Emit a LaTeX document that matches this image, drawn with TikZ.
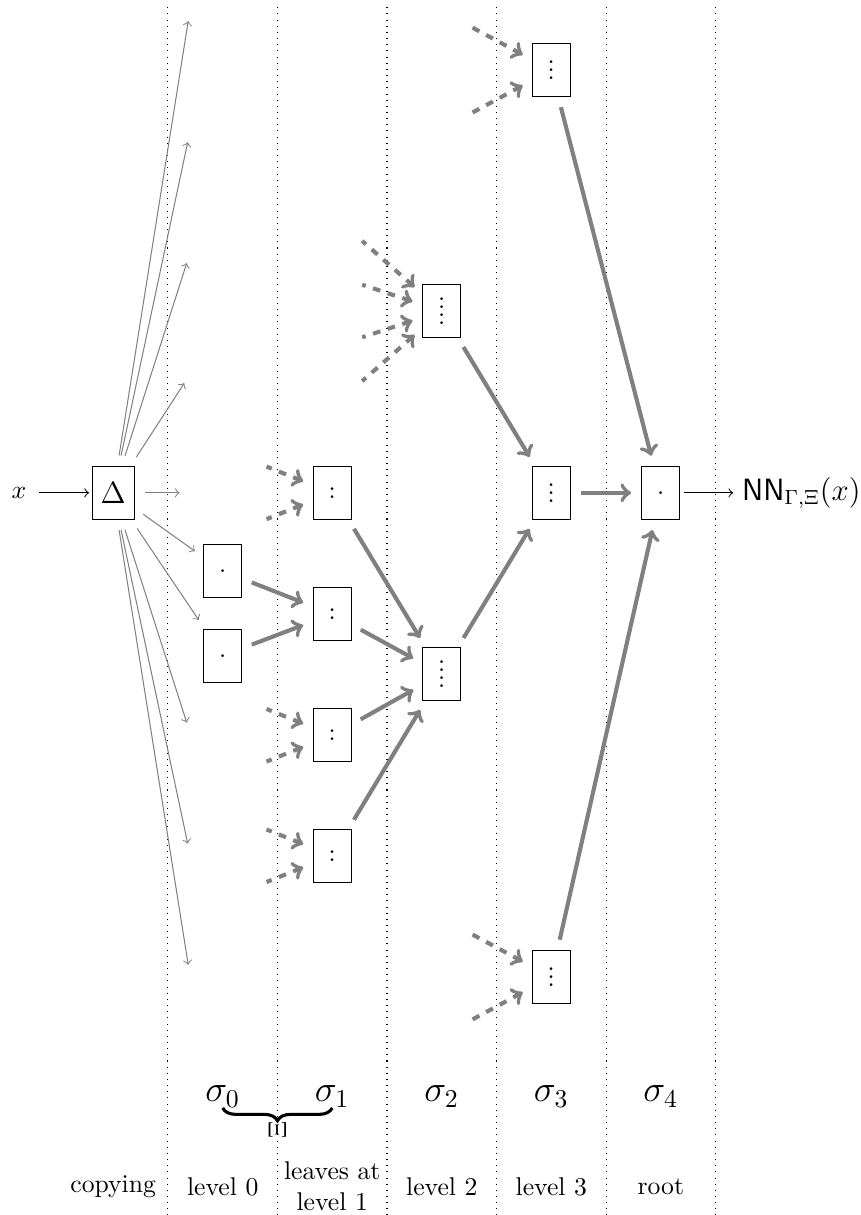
\documentclass[tikz,border=0pt]{standalone}
\usepackage{amsmath}
\usepackage{amssymb}
\usepackage{xcolor}
\usepackage{tikz}
\usetikzlibrary{decorations.pathreplacing}

\newcommand{\onedot}{\vbox{\hbox{.}}}
\newcommand{\twodots}{\vbox{\baselineskip=3.1pt\lineskiplimit=0pt\hbox{.}\hbox{.}}}
\newcommand{\threedots}{\vbox{\baselineskip=3.1pt\lineskiplimit=0pt\hbox{.}\hbox{.}\hbox{.}}}
\newcommand{\fourdots}{\vbox{\baselineskip=3.1pt\lineskiplimit=0pt\hbox{.}\hbox{.}\hbox{.}\hbox{.}}}

\begin{document}
\begin{tikzpicture}[box/.style={draw,minimum width=0.52cm,minimum height=0.73cm},
		copy/.style={->,gray,shorten >=4pt,shorten <=4pt},
		feed/.style={->,gray,ultra thick,shorten >=4pt,shorten <=4pt},
		leaf/.style={<-,gray,ultra thick,dashed,shorten <=4pt}]
				\useasboundingbox (-1.55,-9.89) rectangle (10.23,6.75);
				
				\draw[dotted] (0.75,6.65) -- (0.75,-9.89);
				\draw[dotted] (2.25,6.65) -- (2.25,-9.89);
				\draw[dotted] (3.75,6.65) -- (3.75,-9.89);
				\draw[dotted] (5.25,6.65) -- (5.25,-9.89);
				\draw[dotted] (6.75,6.65) -- (6.75,-9.89);
				\draw[dotted] (8.25,6.65) -- (8.25,-9.89);
				
				\coordinate (f1) at (1.05,6.6);%copies
				\coordinate (f2) at (1.05,4.94);
				\coordinate (f3) at (1.05,3.28);
				\coordinate (f4) at (1.05,1.62);
				\coordinate (f5) at (1.05,0);
				\coordinate (f6) at (1.05,-3.28);
				\coordinate (f7) at (1.05,-4.94);
				\coordinate (f8) at (1.05,-6.6);
				\coordinate (d1) at (2.1,0.36);%leaves at level 1
				\coordinate (d2) at (2.1,-0.36);
				\coordinate (d3) at (2.1,-2.96);
				\coordinate (d4) at (2.1,-3.68);
				\coordinate (d5) at (2.1,-4.61);
				\coordinate (d6) at (2.1,-5.33);
				\coordinate (e1) at (3.41,3.45);%level 2
				\coordinate (e2) at (3.41,2.85);
				\coordinate (e3) at (3.41,2.13);
				\coordinate (e4) at (3.41,1.53);
				\coordinate (g1) at (4.85,6.41);%level 3
				\coordinate (g2) at (4.85,5.17);
				\coordinate (g3) at (4.85,-6.01);
				\coordinate (g4) at (4.85,-7.25);
				
				\node (in) at (-1.29,0) {$x$};
				\node[box,font=\large] (delta) at (0,0) {$\Delta$};
				\node[box] (l0a) at (1.5,-1.07) {\onedot};
				\node[box] (l0b) at (1.5,-2.23) {\onedot};
				\node[box] (l1a) at (3,0) {\twodots};
				\node[box] (l1b) at (3,-1.66) {\twodots};
				\node[box] (l1c) at (3,-3.32) {\twodots};
				\node[box] (l1d) at (3,-4.97) {\twodots};
				\node[box] (l2a) at (4.5,2.49) {\fourdots};
				\node[box] (l2b) at (4.5,-2.48) {\fourdots};
				\node[box] (l3a) at (6,5.79) {\threedots};
				\node[box] (l3b) at (6,0) {\threedots};
				\node[box] (l3c) at (6,-6.63) {\threedots};
				\node[box] (root) at (7.5,0) {\onedot};
				\node[anchor=west,font=\large] (out) at (8.49,0) {$\mathsf{NN}_{\Gamma,\Xi}(x)$};
				
				\draw[->,shorten <=1.5pt,shorten >=1pt] (in) -- (delta);
				\draw[->,shorten <=1.5pt] (root) -- (out);
				
				\draw[copy] (delta) -- (f1);
				\draw[copy] (delta) -- (f2);
				\draw[copy] (delta) -- (f3);
				\draw[copy] (delta) -- (f4);
				\draw[copy] (delta) -- (f5);
				\draw[copy] (delta) -- (l0a);
				\draw[copy] (delta) -- (l0b);
				\draw[copy] (delta) -- (f6);
				\draw[copy] (delta) -- (f7);
				\draw[copy] (delta) -- (f8);
				
				\draw[leaf] (l1a) -- (d1);
				\draw[leaf] (l1a) -- (d2);
				\draw[leaf] (l1c) -- (d3);
				\draw[leaf] (l1c) -- (d4);
				\draw[leaf] (l1d) -- (d5);
				\draw[leaf] (l1d) -- (d6);
				\draw[leaf] (l2a) -- (e1);
				\draw[leaf] (l2a) -- (e2);
				\draw[leaf] (l2a) -- (e3);
				\draw[leaf] (l2a) -- (e4);
				\draw[leaf] (l3a) -- (g1);
				\draw[leaf] (l3a) -- (g2);
				\draw[leaf] (l3c) -- (g3);
				\draw[leaf] (l3c) -- (g4);
				
				\draw[feed] (l0a) -- (l1b);
				\draw[feed] (l0b) -- (l1b);
				\draw[feed] (l1a) -- (l2b);
				\draw[feed] (l1b) -- (l2b);
				\draw[feed] (l1c) -- (l2b);
				\draw[feed] (l1d) -- (l2b);
				\draw[feed] (l2a) -- (l3b);
				\draw[feed] (l2b) -- (l3b);
				\draw[feed] (l3a) -- (root);
				\draw[feed] (l3b) -- (root);
				\draw[feed] (l3c) -- (root);
				
				\node[font=\Large,inner sep=0pt] (s0) at (1.5,-8.27) {$\sigma_0$};
				\node[font=\Large,inner sep=0pt] (s1) at (3,-8.27) {$\sigma_1$};
				\node[font=\Large,inner sep=0pt] (s2) at (4.5,-8.27) {$\sigma_2$};
				\node[font=\Large,inner sep=0pt] (s3) at (6,-8.27) {$\sigma_3$};
				\node[font=\Large,inner sep=0pt] (s4) at (7.5,-8.27) {$\sigma_4$};
				\draw[decorate,decoration={brace,mirror,amplitude=5pt},very thick] (s0.south) -- (s1.south);
				\node[rotate=90] (xi) at (2.25,-8.72) {$\Xi$};
				
				\node (lab0) at (0,-9.5) {copying};
				\node (lab1) at (1.5,-9.5) {level 0};
				\node[align=center] (lab2) at (3,-9.5) {leaves at\\level 1};
				\node (lab3) at (4.5,-9.5) {level 2};
				\node (lab4) at (6,-9.5) {level 3};
				\node (lab5) at (7.5,-9.5) {root};
			\end{tikzpicture}
\end{document}
